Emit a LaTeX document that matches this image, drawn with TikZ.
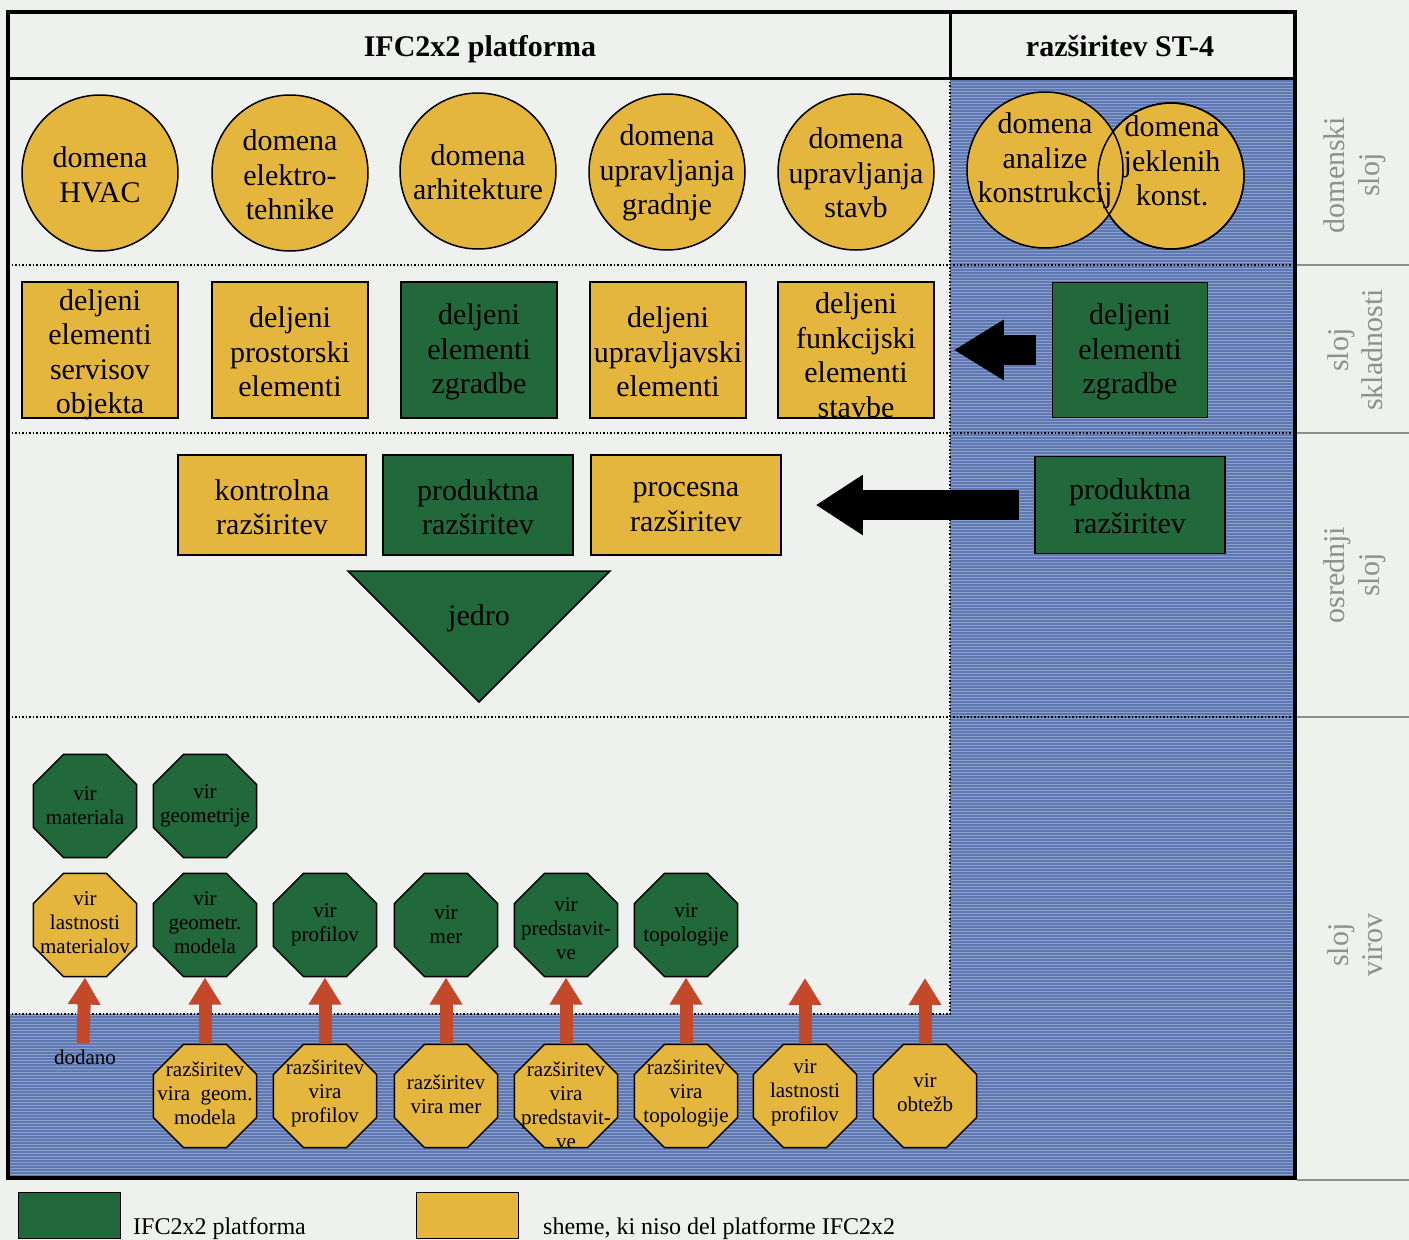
\documentclass[tikz,border=0pt]{standalone}
\usepackage{fontspec}
\setmainfont{Liberation Serif}
\usetikzlibrary{shapes.geometric,arrows.meta}
\definecolor{yel}{RGB}{229,182,62}
\definecolor{grn}{RGB}{33,104,58}
\definecolor{bluebase}{RGB}{96,120,178}
\definecolor{bluelight}{RGB}{140,160,206}
\definecolor{bgc}{RGB}{238,241,238}
\definecolor{redc}{RGB}{196,72,42}
\definecolor{greyc}{RGB}{140,145,142}
\tikzset{
  big/.style={font=\fontsize{30}{34.5}\selectfont, align=center, inner sep=0pt},
  small/.style={font=\fontsize{21}{24}\selectfont, align=center, inner sep=0pt},
  domc/.style={circle, draw=black, line width=1.5pt, fill=yel, minimum size=156pt, inner sep=0pt},
  ring/.style={circle, draw=black, line width=1.5pt, inner sep=0pt},
  boxs/.style={rectangle, draw=black, line width=1.5pt, inner sep=0pt},
  octs/.style={regular polygon, regular polygon sides=8, draw=black, line width=1.5pt, minimum size=112pt, inner sep=0pt},
  fat/.style={line width=30pt, black, -{Triangle[length=50pt,width=57pt]}},
  redarr/.style={draw=redc, color=redc, line width=13pt, -{Triangle[length=27pt,width=31pt]}},
  dots/.style={line width=1.5pt, dash pattern=on 1.5pt off 2pt},
  sidelab/.style={big, text=greyc, rotate=90},
  legbox/.style={rectangle, draw=black, line width=1pt, minimum width=102pt, minimum height=46pt, inner sep=0pt},
  legtxt/.style={anchor=base west, inner sep=0pt, font=\fontsize{24}{28}\selectfont},
}
\begin{document}
\begin{tikzpicture}[x=1pt,y=-1pt]
\useasboundingbox (0,0) rectangle (1409,1240);
\fill[bgc] (0,0) rectangle (1409,1240);
% blue region
\begin{scope}
\clip (950,78) -- (1293,78) -- (1293,1178) -- (8,1178) -- (8,1014) -- (950,1014) -- cycle;
\fill[bluebase] (0,70) rectangle (1300,1185);
\foreach \yy in {79,82,...,1180} \draw[bluelight, line width=0.7pt] (0,\yy) -- (1300,\yy);
\end{scope}
% dotted layer lines
\draw[dots] (8,265) -- (1293,265);
\draw[dots] (8,433) -- (1293,433);
\draw[dots] (8,717) -- (1293,717);
\draw[dots] (950,78) -- (950,1014);
\draw[dots] (8,1014) -- (950,1014);
% frame
\draw[line width=4pt] (8,12) rectangle (1295,1178);
\draw[line width=3pt] (8,78) -- (1295,78);
\draw[line width=3pt] (950,12) -- (950,78);
% right side layer separators
\foreach \yy in {265,433,717} \draw[greyc, line width=1.2pt] (1297,\yy) -- (1409,\yy);
\draw[greyc, line width=1.2pt] (1297,1180) -- (1409,1180);
% titles
\node[anchor=base, inner sep=0pt, font=\bfseries\fontsize{30}{34}\selectfont] (t1) at (480,56) {IFC2x2 platforma};
\node[anchor=base, inner sep=0pt, font=\bfseries\fontsize{30}{34}\selectfont] (t2) at (1120,56) {razširitev ST-4};
% side labels
\node[sidelab] (s1) at (1355,175) {domenski\\sloj};
\node[sidelab] (s2) at (1355,350) {sloj\\skladnosti};
\node[sidelab] (s3) at (1355,575) {osrednji\\sloj};
\node[sidelab] (s4) at (1355,945) {sloj\\virov};
% domain circles
\node[domc] (hvac) at (100,173) {};
\node[big] (hvact) at (100,175) {domena\\HVAC};
\node[domc] (elek) at (290,173) {};
\node[big] (elekt) at (290,175) {domena\\elektro-\\tehnike};
\node[domc] (arh) at (478,171) {};
\node[big] (arht) at (478,172) {domena\\arhitekture};
\node[domc] (ugr) at (667,172) {};
\node[big] (ugrt) at (667,173) {domena\\upravljanja\\gradnje};
\node[domc] (ust) at (856,172) {};
\node[big] (ustt) at (856,173) {domena\\upravljanja\\stavb};
\node[domc, minimum size=146pt] (jek) at (1171,176) {};
\node[domc] (ana) at (1045,170) {};
\node[ring, minimum size=146pt] (jekO) at (jek.center) {};
\node[big] (anat) at (1045,161) {domena\\analize\\konstrukcij};
\node[big] (jekt) at (1172,161) {domena\\jeklenih\\konst.};
% row 2 boxes
\node[boxs, fill=yel, minimum width=156pt, minimum height=136pt] (b1) at (100,350) {};
\node[big] (b1t) at (100,355) {deljeni\\elementi\\servisov\\objekta};
\node[boxs, fill=yel, minimum width=156pt, minimum height=136pt] (b2) at (290,350) {};
\node[big] (b2t) at (290,352) {deljeni\\prostorski\\elementi};
\node[boxs, fill=grn, minimum width=156pt, minimum height=136pt] (b3) at (479,350) {};
\node[big] (b3t) at (479,352) {deljeni\\elementi\\zgradbe};
\node[boxs, fill=yel, minimum width=156pt, minimum height=136pt] (b4) at (668,350) {};
\node[big] (b4t) at (668,352) {deljeni\\upravljavski\\elementi};
\node[boxs, fill=yel, minimum width=156pt, minimum height=136pt] (b5) at (856,350) {};
\node[big] (b5t) at (856,355) {deljeni\\funkcijski\\elementi\\stavbe};
\node[boxs, fill=grn, minimum width=155pt, minimum height=135pt] (rb) at (1130,350) {};
\node[big] (rbt) at (1130,352) {deljeni\\elementi\\zgradbe};
\draw[fat] ([xshift=-16pt]rb.west) -- ([xshift=19pt]b5.east);
% row 3 boxes
\node[boxs, fill=yel, minimum width=188pt, minimum height=100pt] (k) at (272,505) {};
\node[big] (kt) at (272,507) {kontrolna\\razširitev};
\node[boxs, fill=grn, minimum width=190pt, minimum height=100pt] (p) at (478,505) {};
\node[big] (pt) at (478,507) {produktna\\razširitev};
\node[boxs, fill=yel, minimum width=190pt, minimum height=100pt] (pr) at (686,505) {};
\node[big] (prt) at (686,507) {procesna\\razširitev};
\node[boxs, fill=grn, minimum width=190pt, minimum height=97pt] (rp) at (1130,505) {};
\node[big] (rpt) at (1130,506) {produktna\\razširitev};
\draw[fat, -{Triangle[length=47pt,width=57pt]}] ([xshift=-15pt]rp.west) -- ([xshift=34pt]pr.east);
% core triangle
\draw[fill=grn, line width=1.5pt] (348,571) -- (610,571) -- (479,702) -- cycle;
\node[big] (jedro) at (479,618) {jedro};
% resource octagons row 4
\node[octs, fill=grn] (vm) at (85,806) {};
\node[small] (vmt) at (85,806) {vir\\materiala};
\node[octs, fill=grn] (vg) at (205,806) {};
\node[small] (vgt) at (205,806) {vir\\geometrije};
% row 5
\node[octs, fill=yel] (vlm) at (85,925) {};
\node[small] (vlmt) at (85,923) {vir\\lastnosti\\materialov};
\node[octs, fill=grn] (vgm) at (205,925) {};
\node[small] (vgmt) at (205,923) {vir\\geometr.\\modela};
\node[octs, fill=grn] (vp) at (325,925) {};
\node[small] (vpt) at (325,925) {vir\\profilov};
\node[octs, fill=grn] (vmer) at (446,925) {};
\node[small] (vmert) at (446,925) {vir\\mer};
\node[octs, fill=grn] (vpr) at (566,925) {};
\node[small] (vprt) at (566,929) {vir\\predstavit-\\ve};
\node[octs, fill=grn] (vt) at (686,925) {};
\node[small] (vtt) at (686,925) {vir\\topologije};
% bottom octagons
\node[octs, fill=yel] (e1) at (205,1096) {};
\node[small] (e1t) at (205,1093) {razširitev\\vira\ \ geom.\\modela};
\node[octs, fill=yel] (e2) at (325,1096) {};
\node[small] (e2t) at (325,1093) {razširitev\\vira\\profilov};
\node[octs, fill=yel] (e3) at (446,1096) {};
\node[small] (e3t) at (446,1094) {razširitev\\vira mer};
\node[octs, fill=yel] (e4) at (566,1096) {};
\node[small] (e4t) at (566,1105) {razširitev\\vira\\predstavit-\\ve};
\node[octs, fill=yel] (e5) at (686,1096) {};
\node[small] (e5t) at (686,1093) {razširitev\\vira\\topologije};
\node[octs, fill=yel] (e6) at (805,1096) {};
\node[small] (e6t) at (805,1093) {vir\\lastnosti\\profilov};
\node[octs, fill=yel] (e7) at (925,1096) {};
\node[small] (e7t) at (925,1093) {vir\\obtežb};
% red arrows
\coordinate (dd) at (83,1043);
\coordinate (t6) at (805,978);
\coordinate (t7) at (925,978);
\draw[redarr] (dd) -- (vlm.south);
\draw[redarr] (e1.north) -- (vgm.south);
\draw[redarr] (e2.north) -- (vp.south);
\draw[redarr] (e3.north) -- (vmer.south);
\draw[redarr] (e4.north) -- (vpr.south);
\draw[redarr] (e5.north) -- (vt.south);
\draw[redarr] (e6.north) -- (t6);
\draw[redarr] (e7.north) -- (t7);
\node[small] (dod) at (85,1057) {dodano};
% legend
\node[legbox, fill=grn] (lg) at (69,1215) {};
\node[legtxt] (lgt) at (133,1234) {IFC2x2 platforma};
\node[legbox, fill=yel] (ly) at (467,1215) {};
\node[legtxt] (lyt) at (543,1234) {sheme, ki niso del platforme IFC2x2};
\end{tikzpicture}
\end{document}
